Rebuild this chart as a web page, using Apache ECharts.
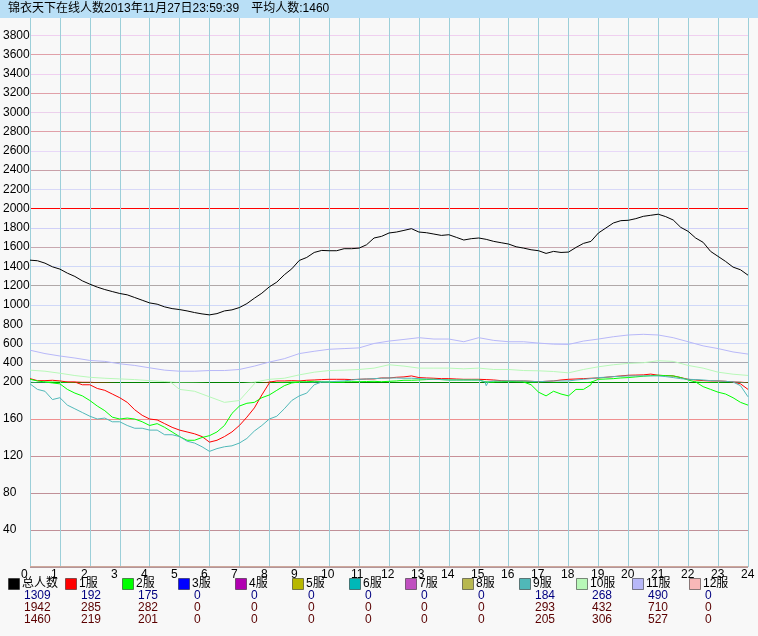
<!DOCTYPE html>
<html><head><meta charset="utf-8">
<script src="https://cdn.jsdelivr.net/npm/echarts@6/dist/echarts.min.js"></script>
<style>html,body{margin:0;padding:0;background:#f8f8f8}#c{width:758px;height:636px}</style>
</head><body><div id="c"></div>
<script>
const titleText = '锦衣天下在线人数2013年11月27日23:59:39　平均人数:1460';
const hourTicks = [0,1,2,3,4,5,6,7,8,9,10,11,12,13,14,15,16,17,18,19,20,21,22,23,24];
const upperTicks = [200,400,600,800,1000,1200,1400,1600,1800,2000,2200,2400,2600,2800,3000,3200,3400,3600,3800];
const lowerTicks = [40,80,120,160];
const quarterHours = [0,0.25,0.5,0.75,1,1.25,1.5,1.75,2,2.25,2.5,2.75,3,3.25,3.5,3.75,4,4.25,4.5,4.75,5,5.25,5.5,5.75,6,6.25,6.5,6.75,7,7.25,7.5,7.75,8,8.25,8.5,8.75,9,9.25,9.5,9.75,10,10.25,10.5,10.75,11,11.25,11.5,11.75,12,12.25,12.5,12.75,13,13.25,13.5,13.75,14,14.25,14.5,14.75,15,15.25,15.5,15.75,16,16.25,16.5,16.75,17,17.25,17.5,17.75,18,18.25,18.5,18.75,19,19.25,19.5,19.75,20,20.25,20.5,20.75,21,21.25,21.5,21.75,22,22.25,22.5,22.75,23,23.25,23.5,23.75,24];
const halfHours = [0,0.5,1,1.5,2,2.5,3,3.5,4,4.5,5,5.5,6,6.5,7,7.5,8,8.5,9,9.5,10,10.5,11,11.5,12,12.5,13,13.5,14,14.5,15,15.5,16,16.5,17,17.5,18,18.5,19,19.5,20,20.5,21,21.5,22,22.5,23,23.5,24];

// 总人数 (quarter hours)
const totalOnline = [1465,1459,1434,1396,1372,1330,1296,1250,1216,1185,1160,1139,1119,1105,1077,1049,1021,1008,980,962,952,938,921,907,897,910,938,949,973,1014,1070,1122,1188,1237,1313,1375,1462,1493,1545,1566,1563,1563,1584,1584,1590,1625,1695,1712,1747,1757,1774,1792,1757,1750,1736,1722,1729,1702,1674,1688,1695,1681,1660,1646,1632,1604,1590,1573,1563,1535,1556,1545,1549,1597,1639,1660,1747,1799,1851,1875,1879,1896,1920,1931,1942,1917,1882,1806,1764,1695,1650,1556,1504,1452,1393,1365,1309];
// 1服 (quarter hours)
const server1 = [235,214,214,218,211,200,200,197,197,193,191,187,183,178,170,164,160,159,155,151,148,146,144,141,135,137,141,146,153,162,172,186,199,211,211,214,211,218,221,225,228,228,228,225,228,231,232,242,242,249,253,263,246,242,239,235,235,231,228,228,228,225,221,214,211,211,211,207,203,207,211,221,228,231,235,239,242,249,256,263,270,272,274,282,270,266,263,246,228,221,214,211,211,207,200,198,192];
// 2服 (quarter hours)
const server2 = [228,211,200,199,198,192,188,185,180,174,169,162,160,161,160,157,153,155,151,146,141,137,137,140,142,146,153,166,174,177,178,183,186,191,196,199,200,203,207,203,200,200,200,203,203,205,207,203,207,211,218,218,221,225,228,225,221,221,221,221,221,200,200,203,207,203,200,197,189,185,190,187,185,192,192,197,228,231,235,242,246,253,260,266,270,266,263,246,221,200,195,192,189,187,183,178,175];
// 9服 (quarter hours)
const server9 = [198,192,190,181,183,175,171,167,163,160,161,157,157,153,150,150,148,148,143,143,141,136,134,130,125,128,130,131,134,139,147,153,160,163,171,180,185,188,197,200,200,207,211,221,228,231,235,239,242,242,239,239,235,231,228,225,221,221,221,221,221,196,211,211,211,211,211,207,203,207,211,211,211,221,228,235,246,249,256,260,263,263,263,263,263,256,246,235,228,225,221,214,211,207,200,196,184];
// 10服 (half hours)
const server10 = [323,312,291,267,249,239,232,225,214,205,192,190,184,178,180,198,228,239,274,302,319,323,330,344,379,365,344,344,344,337,344,330,330,319,316,309,295,330,358,379,393,400,421,414,372,344,302,281,268];
// 11服 (half hours)
const server11 = [530,495,470,449,424,414,389,372,347,323,312,312,319,319,330,365,407,442,495,519,540,547,554,600,625,642,660,646,646,618,660,632,618,618,604,593,590,625,646,670,688,695,688,660,618,575,547,512,490];
// 3服–8服, 12服: no players all day
const idleServer = [0,0,0,0,0,0,0,0,0,0,0,0,0,0,0,0,0,0,0,0,0,0,0,0,0];

const legendNames = ['总人数','1服','2服','3服','4服','5服','6服','7服','8服','9服','10服','11服','12服'];
const legendColors = ['#000000','#ff0000','#00ff00','#0000ff','#b000b0','#b8b800','#00b8b8','#c050c0','#b8b850','#50b8b8','#b8f8b8','#b8b8f8','#f8b8b8'];
const currentVals = [1309,192,175,0,0,0,0,0,0,184,268,490,0];
const maxVals = [1942,285,282,0,0,0,0,0,0,293,432,710,0];
const avgVals = [1460,219,201,0,0,0,0,0,0,205,306,527,0];

const FONT = '"Liberation Sans","Noto Sans CJK SC",sans-serif';
const upperLineColors = ['#008000','#a8a8b0','#d0d8f8','#a8a8a8','#d0d8f8','#b0a8a8','#d0d8f8','#c8a8b0','#d0d0f8','#ff0000','#d8d8f8','#c8a0a8','#e8d8f8','#e0a0a8','#ecd0ec','#e0a0a8','#f0d0f0','#e0a0a8','#f0d0f0','rgba(0,0,0,0)'];
const lowerLineColors = ['#f8b8b8','#c09098','#c09098','#c89098','#f09090','#008000'];
const vGridColor = '#9ccfd9';

const seriesDefs = [
  {hours: quarterHours, values: totalOnline, idx: 0, grids: [0]},
  {hours: quarterHours, values: server1, idx: 1, grids: [0, 1]},
  {hours: quarterHours, values: server2, idx: 2, grids: [0, 1]},
  {hours: hourTicks, values: idleServer, idx: 3, grids: [1]},
  {hours: hourTicks, values: idleServer, idx: 4, grids: [1]},
  {hours: hourTicks, values: idleServer, idx: 5, grids: [1]},
  {hours: hourTicks, values: idleServer, idx: 6, grids: [1]},
  {hours: hourTicks, values: idleServer, idx: 7, grids: [1]},
  {hours: hourTicks, values: idleServer, idx: 8, grids: [1]},
  {hours: quarterHours, values: server9, idx: 9, grids: [0, 1]},
  {hours: halfHours, values: server10, idx: 10, grids: [0, 1]},
  {hours: halfHours, values: server11, idx: 11, grids: [0]},
  {hours: hourTicks, values: idleServer, idx: 12, grids: [1]}
];

const series = [];
seriesDefs.forEach(d => {
  d.grids.forEach(g => {
    const data = d.hours.map((h, i) => [h, d.values[i]]);
    series.push({
      name: legendNames[d.idx], type: 'line', xAxisIndex: g, yAxisIndex: g,
      data: data, symbol: 'none', clip: true, silent: true,
      lineStyle: {color: legendColors[d.idx], width: 1},
      itemStyle: {color: legendColors[d.idx]},
      z: 2 + d.idx * 0.01
    });
  });
});

const X0 = 8, STEP = 56.75;
const graphics = [
  {type: 'rect', shape: {x: 0, y: 0, width: 758, height: 18}, style: {fill: '#b9dff6'}, z: 100},
  {type: 'text', x: 8, y: 9, style: {text: titleText, font: '12px ' + FONT, fill: '#000', textVerticalAlign: 'middle', verticalAlign: 'middle'}, z: 101}
];
legendNames.forEach((n, i) => {
  const x = Math.round(X0 + i * STEP);
  graphics.push({type: 'rect', shape: {x: x + 0.5, y: 578.5, width: 11, height: 11}, style: {fill: legendColors[i], stroke: 'rgba(0,0,0,0.45)', lineWidth: 1}});
  graphics.push({type: 'text', x: x + 14, y: 584, style: {text: n, font: '12px ' + FONT, fill: '#000', verticalAlign: 'middle'}});
  graphics.push({type: 'text', x: x + 16, y: 596, style: {text: String(currentVals[i]), font: '12px ' + FONT, fill: '#000080', verticalAlign: 'middle'}});
  graphics.push({type: 'text', x: x + 16, y: 608, style: {text: String(maxVals[i]), font: '12px ' + FONT, fill: '#5a0000', verticalAlign: 'middle'}});
  graphics.push({type: 'text', x: x + 16, y: 620, style: {text: String(avgVals[i]), font: '12px ' + FONT, fill: '#5a0000', verticalAlign: 'middle'}});
});

const chart = echarts.init(document.getElementById('c'), null, {renderer: 'canvas'});
chart.setOption({
  animation: false,
  backgroundColor: '#f8f8f8',
  textStyle: {fontFamily: FONT},
  grid: [
    {left: 28, top: 16, width: 720, height: 366, backgroundColor: '#f8f8f8', show: false},
    {left: 28, top: 382, width: 720, height: 185, show: false},
    {left: 21, top: 382, width: 720, height: 185, show: false}
  ],
  xAxis: [
    {gridIndex: 0, type: 'value', min: 0, max: 24, interval: 1, axisLine: {show: false}, axisTick: {show: false}, axisLabel: {show: false}, splitLine: {show: true, lineStyle: {color: vGridColor, width: 1}}},
    {gridIndex: 1, type: 'value', min: 0, max: 24, interval: 1, axisLine: {show: false}, axisTick: {show: false}, axisLabel: {show: false}, splitLine: {show: true, lineStyle: {color: vGridColor, width: 1}}},
    {gridIndex: 2, type: 'value', min: 0, max: 24, interval: 1, axisLine: {show: false}, axisTick: {show: false}, splitLine: {show: false},
      axisLabel: {show: true, align: 'left', margin: 2, color: '#000', fontSize: 12, fontFamily: FONT,
        formatter: v => hourTicks.indexOf(v) >= 0 ? String(v) : ''}}
  ],
  yAxis: [
    {gridIndex: 0, type: 'value', min: 200, max: 4000, interval: 200, axisLine: {show: false}, axisTick: {show: false},
      axisLabel: {align: 'left', margin: 27, color: '#000', fontSize: 12, fontFamily: FONT, showMaxLabel: true,
        formatter: v => upperTicks.indexOf(v) >= 0 ? String(v) : ''},
      splitLine: {show: true, lineStyle: {color: upperLineColors, width: 1}}},
    {gridIndex: 1, type: 'value', min: 0, max: 200, interval: 40, axisLine: {show: false}, axisTick: {show: false},
      axisLabel: {align: 'left', margin: 27, color: '#000', fontSize: 12, fontFamily: FONT,
        formatter: v => lowerTicks.indexOf(v) >= 0 ? String(v) : ''},
      splitLine: {show: true, lineStyle: {color: lowerLineColors, width: 1}}},
    {gridIndex: 2, type: 'value', min: 0, max: 1, show: false}
  ],
  series: series,
  graphic: graphics
});
</script></body></html>
